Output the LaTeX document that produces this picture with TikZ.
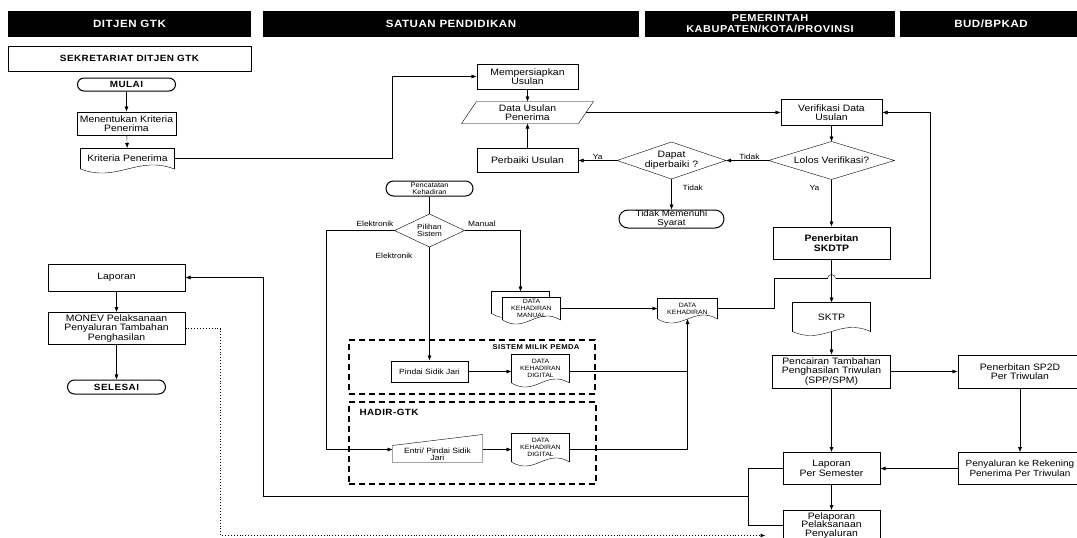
\documentclass[tikz,border=0pt]{standalone}
\usepackage{fontspec}
\setmainfont{Liberation Sans}[FakeStretch=1.12]
\newfontfamily\hdrfont{Liberation Sans}[FakeStretch=1.1,LetterSpace=5]
\usetikzlibrary{arrows.meta,calc}
\pgfdeclarelayer{back}
\pgfsetlayers{back,main}

% outlines drawn around plain rectangular nodes
\newcommand{\docwave}[1]{(#1.south east)
    .. controls ($(#1.south east)!0.4!(#1.south west)+(0,-14)$)
           and ($(#1.south west)!0.4!(#1.south east)+(0,14)$) .. (#1.south west)}
\newcommand{\docoutline}[2][]{%
  \fill[white,#1] (#2.north west) -- (#2.north east) -- \docwave{#2} -- cycle;
  \draw (#2.south west) -- (#2.north west) -- (#2.north east) -- (#2.south east);
  \draw \docwave{#2};}
\newcommand{\diaoutline}[1]{%
  \draw (#1.west) -- (#1.north) -- (#1.east) -- (#1.south) -- cycle;}
\newcommand{\slantoutline}[2]{%
  \draw ($(#1.north west)+(#2,0)$) -- ($(#1.north east)+(#2,0)$)
     -- ($(#1.south east)+(-#2,0)$) -- ($(#1.south west)+(-#2,0)$) -- cycle;}
\newcommand{\inputoutline}[2]{%
  \draw (#1.south west) -- (#1.north west) -- ($(#1.north east)+(0,-#2)$)
     -- (#1.south east) -- cycle;}

\begin{document}
\begin{tikzpicture}[x=1pt,y=-1pt,
  line width=1pt,
  every node/.style={align=center, inner sep=1pt, font=\fontsize{9.3}{9.6}\selectfont},
  box/.style={draw, rectangle},
  term/.style={draw, rectangle, rounded corners=6.5pt},
  hdr/.style={fill=black, text=white, minimum height=26pt, inner sep=0pt,
              font=\hdrfont\bfseries\fontsize{10.5}{11}\selectfont},
  boldtxt/.style={font=\hdrfont\bfseries\fontsize{9}{9.5}\selectfont},
  lbl/.style={font=\fontsize{7.5}{8}\selectfont, inner sep=1pt},
  small/.style={font=\fontsize{6.2}{6.9}\selectfont, inner sep=0pt},
  arr/.style={-{Latex[length=5pt,width=4pt]}},
  grp/.style={draw, dash pattern=on 6pt off 4pt, line width=1.4pt},
]
\useasboundingbox (0,0) rectangle (1077,538);
\clip (0,0) rectangle (1077,538);

% lane headers
\node[hdr, minimum width=243pt] (hA) at (129.5,24) {DITJEN GTK};
\node[hdr, minimum width=376pt] (hB) at (451,24) {SATUAN PENDIDIKAN};
\node[hdr, minimum width=250pt, font=\hdrfont\bfseries\fontsize{10}{11}\selectfont]
  (hC) at (770,24) {PEMERINTAH\\KABUPATEN/KOTA/PROVINSI};
\node[hdr, minimum width=182pt] (hD) at (991,24) {BUD/BPKAD};

% DITJEN GTK lane
\node[box, minimum width=243pt, minimum height=25pt, boldtxt] (sek) at (129.5,58.5) {SEKRETARIAT DITJEN GTK};
\node[term, minimum width=98pt, minimum height=13pt, inner sep=0pt, boldtxt] (mulai) at (126.5,84.5) {MULAI};
\node[box, minimum width=99pt, minimum height=23pt] (tentukan) at (126.5,123.5) {Menentukan Kriteria\\Penerima};
\node[minimum width=93pt, minimum height=20pt] (krit) at (127.5,158.5) {Kriteria Penerima};
\node[box, minimum width=137pt, minimum height=27pt] (lapA) at (116.5,277.5) {Laporan};
\node[box, minimum width=137pt, minimum height=32pt, font=\fontsize{9.3}{9.3}\selectfont] (monev) at (116.5,328.5)
  {MONEV Pelaksanaan\\Penyaluran Tambahan\\Penghasilan};
\node[term, minimum width=98pt, minimum height=14pt, rounded corners=7pt, inner sep=0pt, boldtxt] (selesai) at (116.5,387) {SELESAI};

% SATUAN PENDIDIKAN lane
\node[box, minimum width=101pt, minimum height=25pt] (siap) at (527.5,76.5) {Mempersiapkan\\Usulan};
\node[minimum width=116pt, minimum height=21pt] (usulan) at (527.5,112.5) {Data Usulan\\Penerima};
\node[box, minimum width=101pt, minimum height=24pt] (perbaiki) at (527.5,160.5) {Perbaiki Usulan};
\node[term, minimum width=87pt, minimum height=15pt, rounded corners=7.5pt, inner sep=0pt,
      font=\fontsize{6.7}{7}\selectfont] (catat) at (429.5,188.5) {Pencatatan\\Kehadiran};
\node[minimum width=69pt, minimum height=32pt, inner sep=0pt, font=\fontsize{7.3}{7.6}\selectfont] (pilih) at (429.5,230.5) {Pilihan\\Sistem};
\node[minimum width=57pt, minimum height=21pt] (manback) at (520.5,302.5) {};
\node[small, minimum width=57pt, minimum height=22pt] (manual) at (531.5,308.5) {DATA\\KEHADIRAN\\MANUAL};

\node[grp, minimum width=246pt, minimum height=54pt] (pemda) at (472,367) {};
\node[anchor=east, font=\hdrfont\bfseries\fontsize{7}{7}\selectfont] (pemdalbl) at (581,347) {SISTEM MILIK PEMDA};
\node[box, minimum width=77pt, minimum height=21pt, font=\fontsize{7.6}{8}\selectfont] (pindai) at (429.5,371.5) {Pindai Sidik Jari};
\node[small, minimum width=57pt, minimum height=28pt] (dig1) at (540.5,368.5) {DATA\\KEHADIRAN\\DIGITAL};

\node[grp, minimum width=247pt, minimum height=82pt] (hadir) at (472.5,443) {};
\node[anchor=west, font=\hdrfont\bfseries\fontsize{9}{9}\selectfont] (hadirlbl) at (358,412) {HADIR-GTK};
\node[minimum width=89pt, minimum height=16pt, inner sep=0pt, font=\fontsize{7.6}{7.3}\selectfont] (entri) at (437.5,454) {Entri/ Pindai Sidik\\Jari};
\node[small, minimum width=57pt, minimum height=28pt] (dig2) at (540.5,447.5) {DATA\\KEHADIRAN\\DIGITAL};

% PEMERINTAH lane
\node[box, minimum width=101pt, minimum height=26pt] (verif) at (831.5,112.5) {Verifikasi Data\\Usulan};
\node[minimum width=125pt, minimum height=37pt, inner sep=0pt] (lolos) at (831.5,160.5) {Lolos Verifikasi?};
\node[minimum width=108pt, minimum height=36pt, inner sep=0pt] (dapat) at (671.5,160.5) {Dapat\\diperbaiki ?};
\node[term, minimum width=105pt, minimum height=18pt, rounded corners=9pt, inner sep=0pt,
      font=\fontsize{8.7}{9}\selectfont] (gagal) at (671.5,219) {Tidak Memenuhi\\Syarat};
\node[box, minimum width=117pt, minimum height=32pt, font=\bfseries\fontsize{9.3}{10}\selectfont] (skdtp) at (831.5,243) {Penerbitan\\SKDTP};
\node[small, minimum width=59pt, minimum height=20pt] (datak) at (687.5,308.5) {DATA\\KEHADIRAN};
\node[minimum width=77pt, minimum height=28pt] (sktp) at (831.5,317) {SKTP};
\node[box, minimum width=118pt, minimum height=33pt] (cair) at (831.5,371.5) {Pencairan Tambahan\\Penghasilan Triwulan\\(SPP/SPM)};
\node[box, minimum width=97pt, minimum height=32pt] (lapsem) at (831.5,468.5) {Laporan\\Per Semester};
\node[box, minimum width=97pt, minimum height=30pt, font=\fontsize{9.3}{8.8}\selectfont] (pelap) at (831.5,525.5) {Pelaporan\\Pelaksanaan\\Penyaluran};

% BUD/BPKAD lane
\node[box, minimum width=124pt, minimum height=33pt] (sp2d) at (1020,371.5) {Penerbitan SP2D\\Per Triwulan};
\node[box, minimum width=124pt, minimum height=32pt, font=\fontsize{8.9}{9.6}\selectfont] (salur) at (1020,468.5) {Penyaluran ke Rekening\\Penerima Per Triwulan};

% shape outlines
\begin{pgfonlayer}{back}
  \docoutline{krit}
  \slantoutline{usulan}{7.5}
  \diaoutline{pilih}
  \docoutline{manback}
  \docoutline{manual}
  \docoutline{dig1}
  \inputoutline{entri}{11}
  \docoutline{dig2}
  \diaoutline{lolos}
  \diaoutline{dapat}
  \docoutline{datak}
  \docoutline{sktp}
\end{pgfonlayer}

% branch labels
\node[lbl] (lbEl1) at (375,224) {Elektronik};
\node[lbl] (lbMan) at (482,224) {Manual};
\node[lbl] (lbEl2) at (394,256) {Elektronik};

% connectors
\coordinate (kbend) at (392.5,100);
\coordinate (jx) at (748.5,496.5);
\coordinate (lx) at (263.5,496.5);
\coordinate (dx) at (220.5,535.5);
\coordinate (ex) at (326.5,449.5);
\coordinate (r1) at (774.5,278.5);
\coordinate (r2) at (930.5,278.5);
\coordinate (hopL) at ($(r1 -| skdtp.south)+(-4,0)$);
\coordinate (hopR) at ($(r1 -| skdtp.south)+(4,0)$);

\draw[arr] (mulai) -- (tentukan);
\draw[arr] (tentukan) -- (krit);
\draw[arr] (krit.east) -- (krit.east -| kbend) |- (siap.west);
\draw[arr] (lapA) -- (monev);
\draw[arr] (monev) -- (selesai);

\draw[arr] (siap) -- (usulan);
\draw[arr] (perbaiki) -- (usulan);
\draw[arr] (usulan.east) -- (usulan.east -| verif.west);
\draw[arr] (verif) -- (lolos);
\draw[arr] (lolos.west) -- node[lbl, above, pos=0.45] {Tidak} (dapat.east);
\draw[arr] (dapat.west) -- node[lbl, above] {Ya} (perbaiki.east);
\draw[arr] (dapat.south) -- node[lbl, right=10pt, pos=0.3] {Tidak} (gagal.north);
\draw[arr] (lolos.south) -- node[lbl, left=11pt, pos=0.17] {Ya} (skdtp.north);
\draw[arr] (skdtp) -- (sktp);
\draw[arr] (sktp) -- (cair);
\draw[arr] (cair) -- (sp2d);
\draw[arr] (cair) -- (lapsem);
\draw[arr] (sp2d) -- (salur);
\draw[arr] (salur) -- (lapsem);
\draw[arr] (lapsem) -- (pelap);
\draw (lapsem.west) -| (jx) -- (jx |- pelap.west) -- (pelap.west);
\draw[arr] (jx) -- (lx) |- (lapA.east);
\draw[arr, dotted, line width=0.9pt, shorten >=17pt] (monev.east) -| (dx) -- (dx -| pelap.west);

\draw (catat) -- (pilih);
\draw[arr] (pilih.west) -| (ex) -- (ex -| entri.west);
\draw[arr] (pilih.east) -| (manback.north);
\draw[arr] (pilih.south) -- (pindai.north);
\draw[arr] (pindai.east) -- (pindai.east -| dig1.west);
\draw[arr] (entri.east |- ex) -- (ex -| dig2.west);
\draw[arr] (manual.east) -- (manual.east -| datak.west);
\draw (dig1.east |- pindai.east) -- (pindai.east -| datak.south);
\draw[arr] (ex -| dig2.east) -| (datak.south);
% return line to the verification step, hopping over the SKDTP connector
\draw (datak.east) -| (r1) -- (hopL);
\draw (hopL) arc[start angle=180, end angle=360, radius=4];
\draw[arr] (hopR) -- (r2) |- (verif.east);
\end{tikzpicture}
\end{document}
